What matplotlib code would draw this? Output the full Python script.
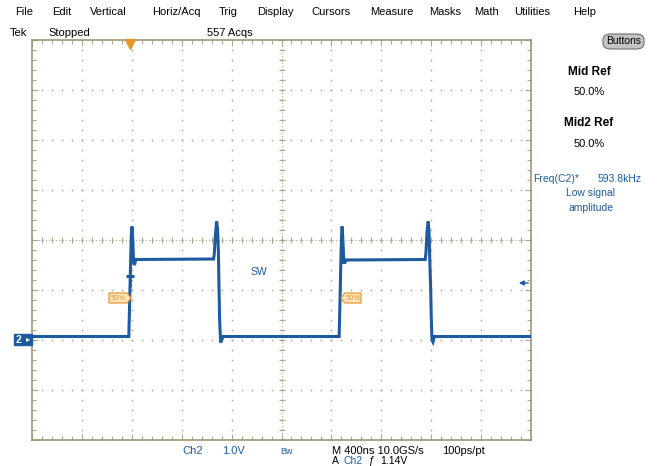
import numpy as np
import matplotlib
matplotlib.use("Agg")
import matplotlib.pyplot as plt
from matplotlib.patches import FancyBboxPatch, Polygon, Rectangle
from matplotlib.ticker import MultipleLocator

plt.rcParams['font.family'] = ['Liberation Sans', 'DejaVu Sans']

# --- data (time in ns from left edge, Ch2 in volts) ---
t_ns = [0, 776, 784, 790, 796, 802, 808, 814, 822, 832, 1456, 1462, 1470,
        1480, 1488, 1494, 1498, 1504, 1512, 1520, 1532, 2462, 2470, 2476,
        2482, 2486, 2492, 2500, 2508, 2518, 3152, 3158, 3166, 3176, 3182,
        3190, 3196, 3200, 3206, 3214, 3226, 4000]
ch2_v = [0.07, 0.07, 0.9, 1.5, 2.1, 2.27, 2.0, 1.55, 1.5, 1.61, 1.62, 1.75,
         2.1, 2.37, 2.2, 1.8, 1.2, 0.4, -0.05, 0.0, 0.07, 0.07, 0.9, 1.6,
         2.1, 2.27, 2.0, 1.55, 1.55, 1.6, 1.61, 1.75, 2.15, 2.37, 2.2,
         1.5, 1.0, 0.5, 0.0, -0.04, 0.07, 0.07]

menu_items = ["File", "Edit", "Vertical", "Horiz/Acq", "Trig", "Display",
              "Cursors", "Measure", "Masks", "Math", "Utilities", "Help"]
menu_x = [15, 52, 90, 152, 219, 257, 311, 370, 429, 474, 514, 573]

trig_time = 784      # ns
trig_level = 1.14    # V
ns_per_div = 400
v_per_div = 1.0

BLUE = '#1e5aa0'
ORANGE = '#e8962c'
GRID = '#a8a890'

W, H = 657, 466
fig = plt.figure(figsize=(W / 100, H / 100), dpi=100)
fig.patch.set_facecolor('white')

def fx(px):
    return px / W

def fy(py):
    return 1 - py / H

ax = fig.add_axes([fx(32), fy(440), 499 / W, 400 / H])
ax.set_xlim(0, 10 * ns_per_div)
ax.set_ylim(-2, 6)
for s in ax.spines.values():
    s.set_color('#9c9878')
    s.set_linewidth(1.2)

# tick marks on the frame every 0.2 div
ax.xaxis.set_major_locator(MultipleLocator(ns_per_div))
ax.xaxis.set_minor_locator(MultipleLocator(ns_per_div / 5))
ax.yaxis.set_major_locator(MultipleLocator(v_per_div))
ax.yaxis.set_minor_locator(MultipleLocator(v_per_div / 5))
ax.tick_params(which='both', direction='in', top=True, right=True,
               labelbottom=False, labelleft=False, color=GRID)
ax.tick_params(which='major', length=4, width=0.8)
ax.tick_params(which='minor', length=3, width=0.8)

# dotted graticule
xs_major = np.arange(ns_per_div, 10 * ns_per_div, ns_per_div)
ys_major = np.arange(-1, 6, 1.0)
ys_dots = np.arange(-2, 6.01, 0.2)
xs_dots = np.arange(0, 4000.1, 80)
for x in xs_major:
    ax.plot(np.full_like(ys_dots, x), ys_dots, 's', ms=1.1, color=GRID,
            mec='none', zorder=1)
for y in ys_major:
    ax.plot(xs_dots, np.full_like(xs_dots, y), 's', ms=1.1, color=GRID,
            mec='none', zorder=1)
# center cross: denser dots plus small ticks
ax.axvline(2000, color=GRID, lw=0.8, ls=(0, (1, 2)), zorder=1)
ax.axhline(2, color=GRID, lw=0.8, ls=(0, (1, 2)), zorder=1)
ax.plot(np.full_like(ys_dots, 2000), ys_dots, '_', ms=5, color=GRID, mew=0.8, zorder=1)
ax.plot(xs_dots, np.full_like(xs_dots, 2.0), '|', ms=5, color=GRID, mew=0.8, zorder=1)

# trace
ax.plot(t_ns, ch2_v, color=BLUE, lw=2.2, solid_joinstyle='miter', zorder=3)

# trigger markers
ax.plot([trig_time], [5.93], 'v', ms=7, color=ORANGE, mec=ORANGE, zorder=4,
        clip_on=False)
ax.plot([trig_time], [trig_level + 0.14], '_', ms=6, mew=2.2, color=BLUE, zorder=4)
ax.plot([trig_time, trig_time], [trig_level + 0.14, trig_level - 0.06],
        color=BLUE, lw=1.8, zorder=4)
ax.annotate('', xy=(3880, trig_level), xytext=(4000, trig_level),
            arrowprops=dict(arrowstyle='-|>', color=BLUE, lw=1.0,
                            mutation_scale=7), zorder=4)
ax.text(1816, 1.36, 'SW', color=BLUE, fontsize=7.5, ha='center', va='center')

# 50% tags
def tag(x0, x1, yc, point_right):
    h = 5
    if point_right:
        pts = [(x0, yc - h), (x1 - 4, yc - h), (x1, yc), (x1 - 4, yc + h), (x0, yc + h)]
        tx = (x0 + x1 - 4) / 2
    else:
        pts = [(x0, yc), (x0 + 4, yc - h), (x1, yc - h), (x1, yc + h), (x0 + 4, yc + h)]
        tx = (x0 + 4 + x1) / 2
    pts = [(fx(a), fy(b)) for a, b in pts]
    fig.patches.append(Polygon(pts, closed=True, transform=fig.transFigure,
                               facecolor='#fde6bd', edgecolor=ORANGE, lw=0.9))
    fig.text(fx(tx), fy(yc), '50%', color=ORANGE, fontsize=5.5,
             ha='center', va='center')

tag(109, 131, 298, True)
tag(341, 361, 298, False)

# Ch2 ground marker
fig.patches.append(Rectangle((fx(14), fy(345)), 18 / W, 11 / H,
                             transform=fig.transFigure, facecolor=BLUE,
                             edgecolor=BLUE))
fig.text(fx(19), fy(340), '2', color='white', fontsize=7.5, fontweight='bold',
         ha='center', va='center')
fig.text(fx(28), fy(340), '▸', color='white', fontsize=6, ha='center', va='center')

# menu bar and status line
for name, x in zip(menu_items, menu_x):
    fig.text(fx(x), fy(12), name, fontsize=8, ha='left', va='center')
fig.text(fx(10), fy(33), 'Tek', fontsize=8, ha='left', va='center')
fig.text(fx(48), fy(33), 'Stopped', fontsize=8, ha='left', va='center')
fig.text(fx(207), fy(33), '557 Acqs', fontsize=8, ha='left', va='center')

# Buttons
fig.patches.append(FancyBboxPatch((fx(603), fy(49)), 41 / W, 15 / H,
                                  boxstyle='round,pad=0,rounding_size=0.012',
                                  transform=fig.transFigure, facecolor='#c4c4c4',
                                  edgecolor='#707070', lw=0.8))
fig.text(fx(623.5), fy(41.5), 'Buttons', fontsize=7.5, ha='center', va='center')

# measurement panel
fig.text(fx(589), fy(72), 'Mid Ref', fontsize=8.5, fontweight='bold',
         ha='center', va='center')
fig.text(fx(589), fy(92), '50.0%', fontsize=8, ha='center', va='center')
fig.text(fx(589), fy(123), 'Mid2 Ref', fontsize=8.5, fontweight='bold',
         ha='center', va='center')
fig.text(fx(589), fy(144), '50.0%', fontsize=8, ha='center', va='center')
fig.text(fx(533), fy(179), 'Freq(C2)*', color=BLUE, fontsize=7.5,
         ha='left', va='center')
fig.text(fx(642), fy(179), '593.8kHz', color=BLUE, fontsize=7.5,
         ha='right', va='center')
fig.text(fx(591), fy(193), 'Low signal', color=BLUE, fontsize=7.5,
         ha='center', va='center')
fig.text(fx(591), fy(208), 'amplitude', color=BLUE, fontsize=7.5,
         ha='center', va='center')

# bottom readouts
fig.text(fx(182), fy(451), 'Ch2', color=BLUE, fontsize=8, ha='left', va='center')
fig.text(fx(222), fy(451), '1.0V', color=BLUE, fontsize=8, ha='left', va='center')
fig.text(fx(280), fy(451), 'Bw', color=BLUE, fontsize=6.5, ha='left', va='center')
fig.text(fx(332), fy(451), 'M 400ns 10.0GS/s', fontsize=8, ha='left', va='center')
fig.text(fx(442), fy(451), '100ps/pt', fontsize=8, ha='left', va='center')
fig.text(fx(332), fy(460.5), 'A', fontsize=7.5, ha='left', va='center')
fig.text(fx(344), fy(460.5), 'Ch2', color=BLUE, fontsize=7.5, ha='left', va='center')
fig.text(fx(368), fy(460.5), 'ƒ', fontsize=7.5, ha='left', va='center')
fig.text(fx(380), fy(460.5), '1.14V', fontsize=7.5, ha='left', va='center')

fig.savefig('out.png', dpi=100)
